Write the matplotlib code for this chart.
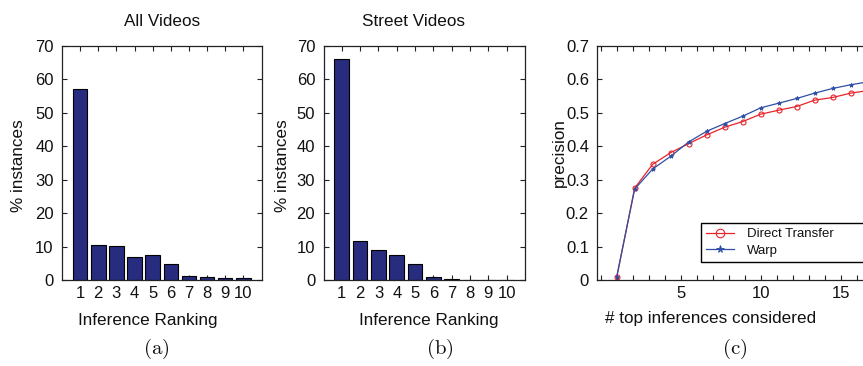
import matplotlib
matplotlib.use("Agg")
import matplotlib.pyplot as plt
from matplotlib.ticker import FormatStrFormatter, MultipleLocator

plt.rcParams['font.family'] = ['Liberation Sans', 'DejaVu Sans']
plt.rcParams['mathtext.fontset'] = 'cm'

# data
ranks = [1, 2, 3, 4, 5, 6, 7, 8, 9, 10]
all_videos = [57.1, 10.5, 10.2, 7.0, 7.5, 4.8, 1.2, 1.0, 0.7, 0.7]
street_videos = [66.0, 11.7, 9.0, 7.5, 4.7, 0.9, 0.2, 0.1, 0.1, 0.0]

top_k = [1, 2.125, 3.25, 4.375, 5.5, 6.625, 7.75, 8.875, 10, 11.125,
         12.25, 13.375, 14.5, 15.625, 16.75, 17.875]
direct_transfer = [0.008, 0.275, 0.346, 0.381, 0.408, 0.434, 0.457, 0.474,
                   0.496, 0.508, 0.519, 0.538, 0.546, 0.559, 0.567, 0.575]
warp = [0.008, 0.272, 0.332, 0.370, 0.413, 0.445, 0.468, 0.490,
        0.515, 0.529, 0.543, 0.559, 0.573, 0.584, 0.593, 0.601]

W, H = 863, 366
bar_color = '#272c7e'
frame_color = '#222222'
text_color = '#111111'


def px(x0, y0, x1, y1):
    # pixel box -> figure fraction rect
    return [x0 / W, 1 - y1 / H, (x1 - x0) / W, (y1 - y0) / H]


fig = plt.figure(figsize=(W / 100, H / 100), dpi=100)


def style_axes(ax):
    for s in ax.spines.values():
        s.set_color(frame_color)
        s.set_linewidth(0.9)
    ax.tick_params(direction='in', top=True, right=True, length=3.5,
                   width=0.8, color=frame_color, labelsize=12,
                   labelcolor=text_color)
    ax.tick_params(axis='y', pad=6)
    ax.tick_params(axis='x', pad=4)


def bar_panel(rect, values):
    ax = fig.add_axes(rect)
    ax.bar(ranks, values, width=0.8, color=bar_color, edgecolor='black',
           linewidth=0.8, zorder=2)
    ax.set_xlim(0, 11)
    ax.set_ylim(0, 70)
    ax.set_xticks(ranks)
    ax.set_yticks(range(0, 71, 10))
    style_axes(ax)
    return ax


ax_a = bar_panel(px(62, 46, 261.5, 280), all_videos)
ax_b = bar_panel(px(323.5, 46, 525, 280), street_videos)

ax_c = fig.add_axes(px(597.3, 46, 597.3 + 16 * 20.21, 280))
ax_c.plot(top_k, direct_transfer, color='#e8232b', lw=0.9, marker='o',
          ms=3.6, mfc='none', mew=0.8, label='Direct Transfer')
ax_c.plot(top_k, warp, color='#2f4fa5', lw=0.9, marker='*', ms=3.2,
          mew=0.6, label='Warp')
ax_c.set_xlim(-0.21, 20)
ax_c.set_ylim(0, 0.7)
ax_c.set_xticks([5, 10, 15])
ax_c.xaxis.set_minor_locator(MultipleLocator(1))
ax_c.set_yticks([0, 0.1, 0.2, 0.3, 0.4, 0.5, 0.6, 0.7])
ax_c.yaxis.set_major_formatter(FormatStrFormatter('%g'))
style_axes(ax_c)
ax_c.tick_params(which='minor', direction='in', top=True, length=3.5,
                 width=0.8, color=frame_color)
leg = ax_c.legend(loc='upper left', mode='expand',
                  bbox_to_anchor=(700.7 / W, 1 - 259.3 / H, 230 / W, 36.6 / H),
                  bbox_transform=fig.transFigure, fontsize=9.5, fancybox=False,
                  edgecolor='black', framealpha=1, borderaxespad=0,
                  handlelength=2.1, handletextpad=1.0, borderpad=0.4,
                  labelspacing=0.35, markerscale=1.7)
leg.get_frame().set_linewidth(1.0)
for t in leg.get_texts():
    t.set_color(text_color)

# titles, axis labels, subfigure captions
label_kw = dict(fontsize=12.3, color=text_color)
fig.text(162 / W, 1 - 21 / H, 'All Videos', ha='center', va='center', **label_kw)
fig.text(413 / W, 1 - 21 / H, 'Street Videos', ha='center', va='center', **label_kw)
fig.text(147.5 / W, 1 - 325 / H, 'Inference Ranking', ha='center',
         va='baseline', **label_kw)
fig.text(428.3 / W, 1 - 325 / H, 'Inference Ranking', ha='center',
         va='baseline', **label_kw)
fig.text(710.8 / W, 1 - 323.5 / H, '# top inferences considered', ha='center',
         va='baseline', **label_kw)
fig.text(18.3 / W, 1 - 165.8 / H, '% instances', rotation=90, ha='center',
         va='center', **label_kw)
fig.text(282 / W, 1 - 165.8 / H, '% instances', rotation=90, ha='center',
         va='center', **label_kw)
fig.text(559 / W, 1 - 153 / H, 'precision', rotation=90, ha='center',
         va='center', **label_kw)
for x, s in [(156.7, '(a)'), (440, '(b)'), (735, '(c)')]:
    fig.text(x / W, 1 - 349.3 / H, r'$\mathrm{%s}$' % s, ha='center',
             va='center', fontsize=15, color=text_color)

fig.savefig('out.png', dpi=100)
